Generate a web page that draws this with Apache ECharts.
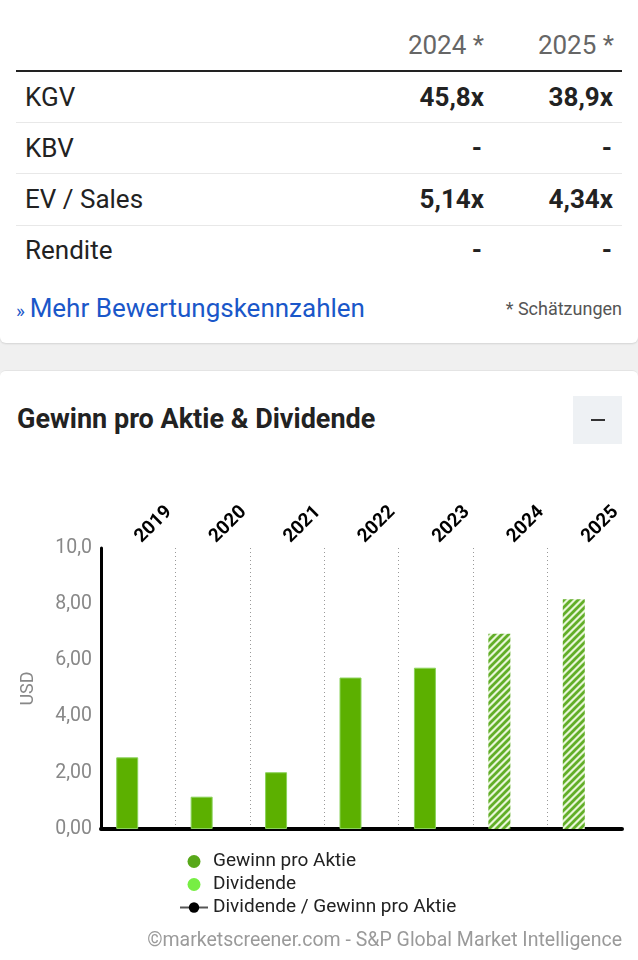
<!DOCTYPE html>
<html>
<head>
<meta charset="utf-8">
<script src="https://cdn.jsdelivr.net/npm/echarts@6/dist/echarts.min.js"></script>
<style>
  body { margin: 0; width: 638px; height: 960px; background: #f0f0f0; font-family: Roboto, "Noto Sans", sans-serif; overflow: hidden; position: relative; }
  .card { position: absolute; left: 0; width: 638px; background: #fff; }
  .card1 { top: 0; height: 343px; box-shadow: 0 1px 2px rgba(0,0,0,0.12); border-radius: 0 0 6px 6px; }
  .card2 { top: 370px; height: 590px; border-top: 1px solid #e4e4e4; border-radius: 6px 6px 0 0; }
  .t { position: absolute; white-space: nowrap; height: 30px; line-height: 30px; }
  .hd { color: #666; font-size: 26px; }
  .lbl { left: 25px; color: #222; font-size: 26px; }
  .val { color: #222; font-size: 26px; font-weight: bold; }
  .sep { position: absolute; left: 16px; width: 606px; height: 1px; background: #e8e8e8; }
  #chart { position: absolute; left: 0; top: 450px; width: 638px; height: 480px; }
</style>
</head>
<body>
<div class="card card1">
  <div class="t hd" style="right:154px;top:30px">2024 *</div>
  <div class="t hd" style="right:24px;top:30px">2025 *</div>
  <div class="sep" style="top:70px;height:2px;background:#222"></div>

  <div class="t lbl" style="top:82px">KGV</div>
  <div class="t val" style="right:154px;top:82px">45,8x</div>
  <div class="t val" style="right:25px;top:82px">38,9x</div>
  <div class="sep" style="top:122px"></div>

  <div class="t lbl" style="top:133px">KBV</div>
  <div class="t val" style="right:156px;top:133px">-</div>
  <div class="t val" style="right:26px;top:133px">-</div>
  <div class="sep" style="top:173px"></div>

  <div class="t lbl" style="top:184px">EV / Sales</div>
  <div class="t val" style="right:154px;top:184px">5,14x</div>
  <div class="t val" style="right:25px;top:184px">4,34x</div>
  <div class="sep" style="top:225px"></div>

  <div class="t lbl" style="top:235px">Rendite</div>
  <div class="t val" style="right:156px;top:235px">-</div>
  <div class="t val" style="right:26px;top:235px">-</div>

  <div class="t" style="left:16px;top:293px;color:#1a57c9;font-size:26px"><span style="font-size:19px">» </span>Mehr Bewertungskennzahlen</div>
  <div class="t" style="right:16px;top:294px;color:#555;font-size:18px">* Schätzungen</div>
</div>

<div class="card card2">
  <div class="t" style="left:17px;top:33px;color:#222;font-size:27px;font-weight:bold">Gewinn pro Aktie &amp; Dividende</div>
  <div style="position:absolute;left:573px;top:25px;width:49px;height:48px;background:#eef1f4">
    <div style="position:absolute;left:18px;top:23px;width:14px;height:2px;background:#333"></div>
  </div>
</div>

<div id="chart"></div>
<div class="t" style="right:16px;top:925px;color:#9a9a9a;font-size:19.5px">©marketscreener.com - S&amp;P Global Market Intelligence</div>

<script>
// Jahre
var years = ["2019", "2020", "2021", "2022", "2023", "2024", "2025"];
// Gewinn pro Aktie (USD), ab 2024 Schätzungen
var eps = [2.55, 1.15, 2.02, 5.39, 5.74, 6.95, 8.18];
var estimated = [false, false, false, false, false, true, true];
// keine Dividende
var dividend = [null, null, null, null, null, null, null];
var payout = [null, null, null, null, null, null, null];
var yTicks = [0, 2, 4, 6, 8, 10];

// Schraffur für Schätzungen
var pc = document.createElement("canvas");
pc.width = 7;
pc.height = 7;
var ctx = pc.getContext("2d");
ctx.fillStyle = "#e8f6d8";
ctx.fillRect(0, 0, 7, 7);
ctx.strokeStyle = "#62ae28";
ctx.lineWidth = 2.8;
ctx.beginPath();
ctx.moveTo(-1, 1); ctx.lineTo(1, -1);
ctx.moveTo(0, 7); ctx.lineTo(7, 0);
ctx.moveTo(6, 8); ctx.lineTo(8, 6);
ctx.stroke();

var chart = echarts.init(document.getElementById("chart"));

var option = {
  animation: false,
  grid: { left: 101, right: 16, top: 98, bottom: 101 },
  legend: {
    orient: "vertical",
    left: 174,
    top: 397,
    itemWidth: 28,
    itemHeight: 13,
    itemGap: 4,
    textStyle: { fontSize: 19, color: "#222", fontFamily: "Roboto" },
    data: [
      { name: "Gewinn pro Aktie", icon: "circle", itemStyle: { color: "#58a81a", borderWidth: 0 } },
      { name: "Dividende", icon: "circle" },
      { name: "Dividende / Gewinn pro Aktie" }
    ]
  },
  xAxis: [
    {
      type: "category",
      data: years,
      position: "top",
      axisLine: { show: false },
      axisTick: { show: false },
      axisLabel: { rotate: 45, margin: 8, fontSize: 19, fontWeight: "bold", color: "#000", fontFamily: "Roboto" },
      splitLine: { show: true, showMinLine: false, showMaxLine: false, lineStyle: { type: [1, 3], color: "#999", width: 1 } }
    },
    {
      type: "category",
      data: years,
      position: "bottom",
      axisLine: { show: true, lineStyle: { color: "#000", width: 4 } },
      axisTick: { show: false },
      axisLabel: { show: false }
    }
  ],
  yAxis: {
    type: "value",
    min: yTicks[0],
    max: yTicks[yTicks.length - 1],
    interval: 2,
    name: "USD",
    nameLocation: "middle",
    nameGap: 64,
    nameTextStyle: { color: "#888", fontSize: 18, fontFamily: "Roboto" },
    axisLine: { show: true, lineStyle: { color: "#000", width: 3 } },
    axisTick: { show: false },
    splitLine: { show: false },
    axisLabel: {
      margin: 9,
      fontSize: 19.5,
      color: "#888",
      fontFamily: "Roboto",
      formatter: function (v) {
        return v === 10 ? "10,0" : v.toFixed(2).replace(".", ",");
      }
    }
  },
  series: [
    {
      name: "Gewinn pro Aktie",
      type: "bar",
      barWidth: 22,
      barGap: "0%",
      itemStyle: { color: "#5cb000", borderColor: "#8bd35a", borderWidth: 1 },
      data: eps.map(function (v, i) {
        return estimated[i]
          ? { value: v, itemStyle: { color: { image: pc, repeat: "repeat" }, borderWidth: 0 } }
          : v;
      })
    },
    {
      name: "Dividende",
      type: "bar",
      barWidth: 22,
      itemStyle: { color: "#77ee44" },
      data: dividend
    },
    {
      name: "Dividende / Gewinn pro Aktie",
      type: "line",
      symbol: "circle",
      symbolSize: 8,
      itemStyle: { color: "#000" },
      lineStyle: { color: "#555", width: 3 },
      data: payout
    }
  ]
};

chart.setOption(option);
</script>
</body>
</html>
